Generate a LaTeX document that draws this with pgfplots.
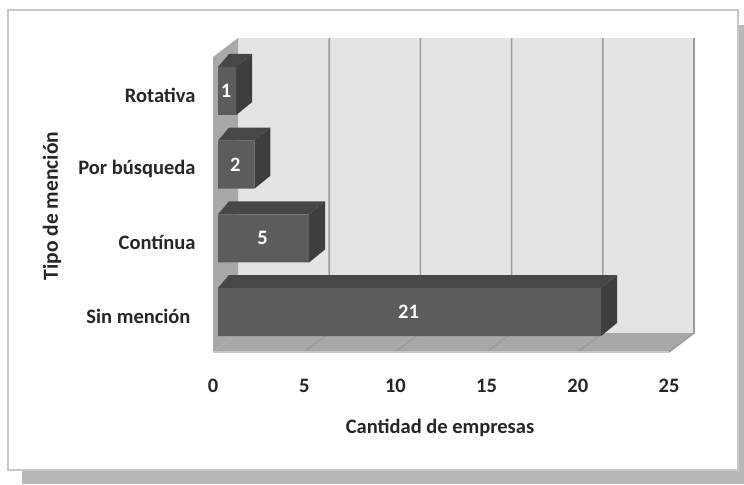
\documentclass[border=0pt]{standalone}
\usepackage{pgfplots}
\usepackage{pgfplotstable}
\usepackage{fontspec}
\setmainfont{Carlito}
\pgfplotsset{compat=1.18}

\definecolor{wallc}{HTML}{E4E4E4}
\definecolor{sidec}{HTML}{A8A8A8}
\definecolor{gridc}{HTML}{9C9C9C}
\definecolor{frontc}{HTML}{5C5C5C}
\definecolor{topc}{HTML}{474747}
\definecolor{rightc}{HTML}{3E3E3E}
\definecolor{framec}{HTML}{C8C8C8}
\definecolor{shadowc}{HTML}{B8B8B8}
\definecolor{textc}{HTML}{262626}

% value and category position of each bar
\pgfplotstableread{
cat value
0   21
1   5
2   2
3   1
}\empresas

% top and right faces of one bar, #1 = value, #2 = category position
\newcommand{\barfaces}[2]{
  \pgfmathsetmacro{\xa}{#1+0.877}
  \pgfmathsetmacro{\xb}{0.6}
  \pgfmathsetmacro{\ya}{#2+0.3258}
  \pgfmathsetmacro{\yb}{#2-0.3258}
  \pgfmathsetmacro{\yc}{#2+0.3258+0.1765}
  \pgfmathsetmacro{\yd}{#2-0.3258+0.1765}
  \addplot[fill=topc,draw=none,forget plot,xshift=5pt] coordinates
    {(0,\ya) (#1,\ya) (\xa,\yc) (\xb,\yc)} --cycle;
  \addplot[fill=rightc,draw=none,forget plot,xshift=5pt] coordinates
    {(#1,\yb) (\xa,\yd) (\xa,\yc) (#1,\ya)} --cycle;
}

\begin{document}
\begin{tikzpicture}[x=1pt,y=1pt]
  % page frame and its drop shadow
  \fill[shadowc] (22,0) rectangle (744,459);
  \fill[white] (0,0) rectangle (22,14);
  \fill[white] (0,14) rectangle (8,484);
  \fill[white] (0,459) rectangle (744,484);
  \filldraw[fill=white,draw=framec,line width=2.2pt] (8,14) rectangle (738,474);

  \begin{axis}[
    at={(0,0)},anchor=south west,
    scale only axis,width=744pt,height=484pt,
    xmin=-11.678,xmax=29.112,
    ymin=-2.3347,ymax=4.2351,
    clip=false,
    axis line style={draw=none},
    major tick length=0pt,
    tick style={draw=none},
    xtick={0,5,10,15,20,25},
    ytick={0,1,2,3},
    yticklabels={Sin mención\rule{5pt}{0pt},Contínua,Por búsqueda,Rotativa},
    /pgf/number format/assume math mode=true,
    xticklabel style={font=\fontsize{20.5}{20.5}\selectfont\bfseries,text=textc,
      anchor=center,yshift=98pt},
    yticklabel style={font=\fontsize{20.5}{20.5}\selectfont\bfseries,text=textc,
      anchor=east,xshift=199pt,yshift=-4pt},
    xlabel={Cantidad de empresas},
    ylabel={Tipo de mención},
    xlabel style={font=\fontsize{20.5}{20.5}\selectfont\bfseries,text=textc,
      at={(rel axis cs:0.5914,0.1157)},anchor=center},
    ylabel style={font=\fontsize{21.5}{21.5}\selectfont\bfseries,text=textc,
      at={(rel axis cs:0.0699,0.5744)},anchor=center,rotate=0},
    bar shift=0pt,
  ]
    % back wall
    \addplot[fill=wallc,draw=none,forget plot] coordinates
      {(1.3706,-0.285) (26.3706,-0.285) (26.3706,3.719) (1.3706,3.719)} --cycle;
    % side wall and floor
    \addplot[fill=sidec,draw=none,forget plot] coordinates
      {(0,-0.543) (1.3706,-0.285) (1.3706,3.719) (0,3.461)} --cycle;
    \addplot[fill=sidec,draw=none,forget plot] coordinates
      {(0,-0.543) (25,-0.543) (26.3706,-0.285) (1.3706,-0.285)} --cycle;
    % gridlines running across the floor and up the back wall
    \addplot[gridc,line width=1.6pt,forget plot] coordinates {(5,-0.543) (6.3706,-0.285) (6.3706,3.719)};
    \addplot[gridc,line width=1.6pt,forget plot] coordinates {(10,-0.543) (11.3706,-0.285) (11.3706,3.719)};
    \addplot[gridc,line width=1.6pt,forget plot] coordinates {(15,-0.543) (16.3706,-0.285) (16.3706,3.719)};
    \addplot[gridc,line width=1.6pt,forget plot] coordinates {(20,-0.543) (21.3706,-0.285) (21.3706,3.719)};
    \addplot[gridc,line width=1.6pt,forget plot] coordinates {(25,-0.543) (26.3706,-0.285) (26.3706,3.719)};
    \addplot[framec,line width=1.2pt,forget plot] coordinates {(0,-0.543) (25,-0.543)};

    % bars, from the rear one forward
    \barfaces{1}{3}
    \barfaces{2}{2}
    \barfaces{5}{1}
    \barfaces{21}{0}
    \addplot[xbar,bar width=48pt,fill=frontc,draw=none,xshift=5pt,forget plot]
      table[x=value,y=cat]{\empresas};

    % value labels at the middle of each bar
    \addplot[only marks,mark=none,xshift=4pt,forget plot,
      nodes near coords,point meta=explicit,
      every node near coord/.style={anchor=center,text=white,
        font=\fontsize{20.5}{20.5}\selectfont\bfseries}]
      table[x expr=\thisrow{value}/2,y=cat,meta=value]{\empresas};
  \end{axis}
\end{tikzpicture}
\end{document}
